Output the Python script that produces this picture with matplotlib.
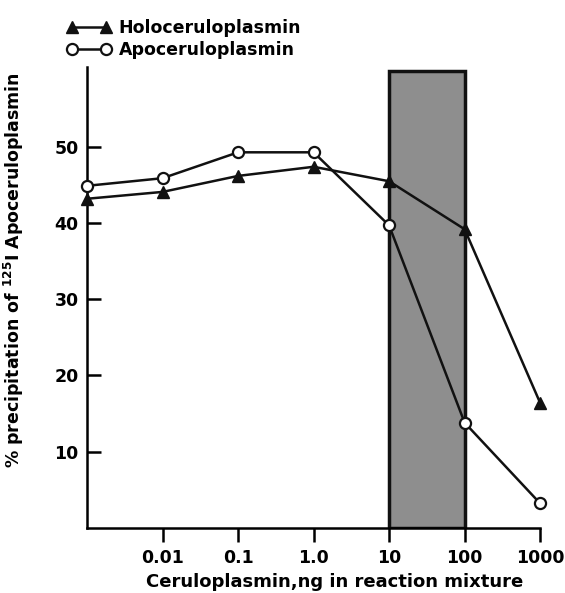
import matplotlib
matplotlib.use("Agg")
import matplotlib.pyplot as plt

# ng of ceruloplasmin in reaction mixture (first point = no added ceruloplasmin, on the axis)
conc = [0.001, 0.01, 0.1, 1.0, 10, 100, 1000]
holo = [43.2, 44.1, 46.2, 47.4, 45.5, 39.2, 16.4]
apo = [44.9, 45.9, 49.3, 49.3, 39.7, 13.8, 3.2]

xtick_vals = [0.01, 0.1, 1.0, 10, 100, 1000]
xtick_labels = ["0.01", "0.1", "1.0", "10", "100", "1000"]
ytick_vals = [10, 20, 30, 40, 50]

shade_range = (10, 100)
shade_top = 60

plt.rcParams["font.family"] = ["DejaVu Sans"]
plt.rcParams["font.weight"] = "bold"
plt.rcParams["axes.labelweight"] = "bold"

fig = plt.figure(figsize=(5.65, 5.93), dpi=100)
ax = fig.add_axes([0.154, 0.110, 0.802, 0.777])

# shaded region between 10 and 100 ng
ax.bar(shade_range[0], shade_top, width=shade_range[1] - shade_range[0], align="edge",
       color="#8e8e8e", edgecolor="#111111", linewidth=2.5, zorder=1)

ax.plot(conc, holo, color="#111111", lw=1.8, marker="^", ms=8,
        mfc="#111111", mec="#111111", label="Holoceruloplasmin", zorder=3, clip_on=False)
ax.plot(conc, apo, color="#111111", lw=1.8, marker="o", ms=8,
        mfc="white", mec="#111111", mew=1.6, label="Apoceruloplasmin", zorder=4, clip_on=False)

ax.set_xscale("log")
ax.set_xlim(0.001, 1000)
ax.set_ylim(0, 60.5)

ax.set_xticks(xtick_vals)
ax.set_xticklabels(xtick_labels)
ax.minorticks_off()
ax.set_yticks(ytick_vals)

ax.spines["top"].set_visible(False)
ax.spines["right"].set_visible(False)
ax.spines["left"].set_linewidth(1.8)
ax.spines["bottom"].set_linewidth(1.8)

ax.tick_params(axis="x", direction="out", length=10, width=1.8, pad=5, labelsize=12.5)
ax.tick_params(axis="y", direction="in", length=10, width=1.8, pad=6, labelsize=12.5)

ax.set_xlabel("Ceruloplasmin,ng in reaction mixture", fontsize=13)
ax.set_ylabel(r"% precipitation of $^{125}$I Apoceruloplasmin", fontsize=12.5)
ax.xaxis.set_label_coords(0.547, -0.098)
ax.yaxis.set_label_coords(-0.135, 0.56)

fig.legend(loc="upper left", bbox_to_anchor=(0.09, 0.995), frameon=False, numpoints=2,
           handlelength=2.6, handletextpad=0.4, labelspacing=0.25, fontsize=12.5)

fig.savefig("out.png", dpi=100)
